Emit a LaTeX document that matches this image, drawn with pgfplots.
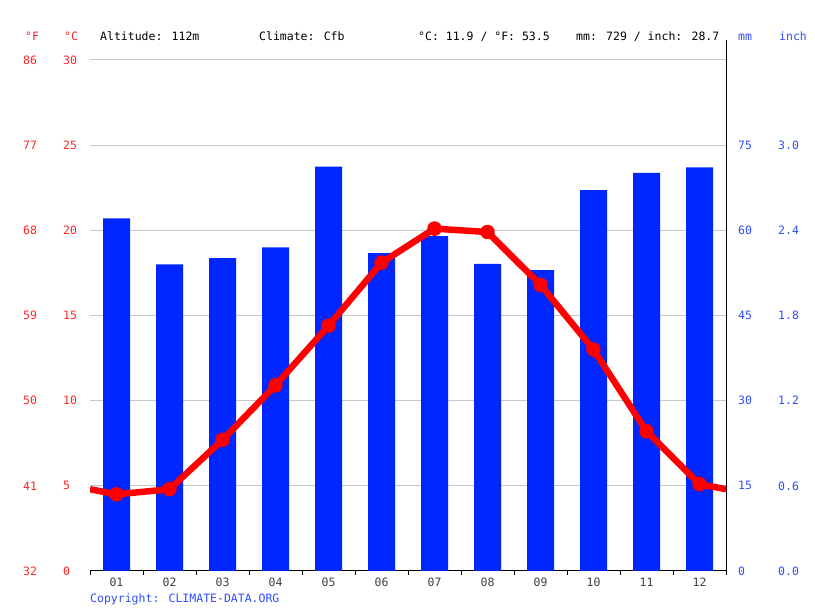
\documentclass[border=0pt]{standalone}
\usepackage{pgfplots}
\pgfplotsset{compat=1.18}
\usepackage{fontspec}
\setmainfont{DejaVu Sans Mono}
\definecolor{barblue}{HTML}{0026FF}
\definecolor{linered}{HTML}{FF0000}
\definecolor{lblred}{HTML}{FF2424}
\definecolor{lblblue}{HTML}{2F4BFF}
\definecolor{gridgray}{HTML}{C8C8C8}
\definecolor{ticktext}{HTML}{404040}
\begin{document}
\fontsize{11.5}{14}\selectfont
\begin{tikzpicture}[x=1pt,y=1pt]
\path[use as bounding box] (0,0) rectangle (815,611);
\pgfplotsset{base/.style={scale only axis, width=636pt, height=511pt,
  at={(90pt,40pt)}, anchor=south west, xmin=0.5, xmax=12.5,
  /pgf/number format/assume math mode=true,
  ticklabel style={font=\fontsize{11.5}{14}\selectfont, inner sep=0pt}},
  labelonly/.style={base, axis line style={draw=none}, major tick length=0pt, xtick=\empty}}

% grid, degC labels, month labels
\begin{axis}[labelonly, ymin=0, ymax=30, ytick={0,5,...,30}, ytick pos=left,
  ymajorgrids, grid style={gridgray, line width=1pt},
  yticklabel style={anchor=west, xshift=-27pt, text=lblred},
  xtick={1,...,12}, xticklabels={01,02,03,04,05,06,07,08,09,10,11,12},
  xticklabel style={anchor=center, yshift=-11.5pt, text=ticktext}]
\end{axis}

% bars (mm)
\begin{axis}[base, ymin=0, ymax=90, ytick=\empty,
  axis x line*=bottom, axis y line*=right, axis line style={black, line width=1pt},
  xtick={0.5,1.5,...,12.5}, xticklabels={}, tick align=outside,
  major tick length=4pt, xtick style={black, line width=1pt},
  ybar, bar width=27pt]
\addplot[fill=barblue, draw=none, bar shift=0pt] coordinates {
 (1,62.1) (2,54.0) (3,55.1) (4,57.0) (5,71.2) (6,56.0)
 (7,59.0) (8,54.1) (9,53.0) (10,67.1) (11,70.1) (12,71.1)};
\end{axis}

% temperature line (degC)
\begin{axis}[labelonly, ymin=0, ymax=30, ytick=\empty]
\addplot[linered, line width=6.5pt, line join=round, mark=*, mark size=4.2pt,
  mark indices={2,3,...,13},
  mark options={fill=linered, draw=none}] coordinates {
 (0.5,4.8) (1,4.5) (2,4.8) (3,7.7) (4,10.9) (5,14.4) (6,18.1)
 (7,20.1) (8,19.9) (9,16.8) (10,13.0) (11,8.2) (12,5.1) (12.5,4.8)};
\end{axis}

% degF labels
\begin{axis}[labelonly, ymin=32, ymax=86, ytick={32,41,...,86}, ytick pos=left,
  yticklabel style={anchor=west, xshift=-67pt, text=lblred}]
\end{axis}

% mm labels
\begin{axis}[labelonly, ymin=0, ymax=90, ytick={0,15,...,75}, ytick pos=right,
  yticklabel style={anchor=west, xshift=12pt, text=lblblue}]
\end{axis}

% inch labels
\begin{axis}[labelonly, ymin=0, ymax=3.6, ytick={0,0.6,1.2,1.8,2.4,3.0}, ytick pos=right,
  yticklabel style={anchor=west, xshift=52pt, text=lblblue,
    /pgf/number format/.cd, fixed, fixed zerofill, precision=1}]
\end{axis}

% right axis line extension
\draw[black, line width=1pt] (726,551) -- (726,570.5);

% header texts
\begin{scope}[every node/.style={anchor=base west, inner sep=0pt, font=\fontsize{11.5}{14}\selectfont}]
\node[text=lblred] at (25,570.5) {°F};
\node[text=lblred] at (64,570.5) {°C};
\node at (100,570.5) {Altitude: 112m};
\node at (259,570.5) {Climate: Cfb};
\node at (418,570.5) {°C: 11.9 / °F: 53.5};
\node at (576,570.5) {mm: 729 / inch: 28.7};
\node[text=lblblue] at (738,570.5) {mm};
\node[text=lblblue] at (779,570.5) {inch};
\node[text=lblblue] at (90,8) {Copyright: CLIMATE-DATA.ORG};
\end{scope}
\end{tikzpicture}
\end{document}
